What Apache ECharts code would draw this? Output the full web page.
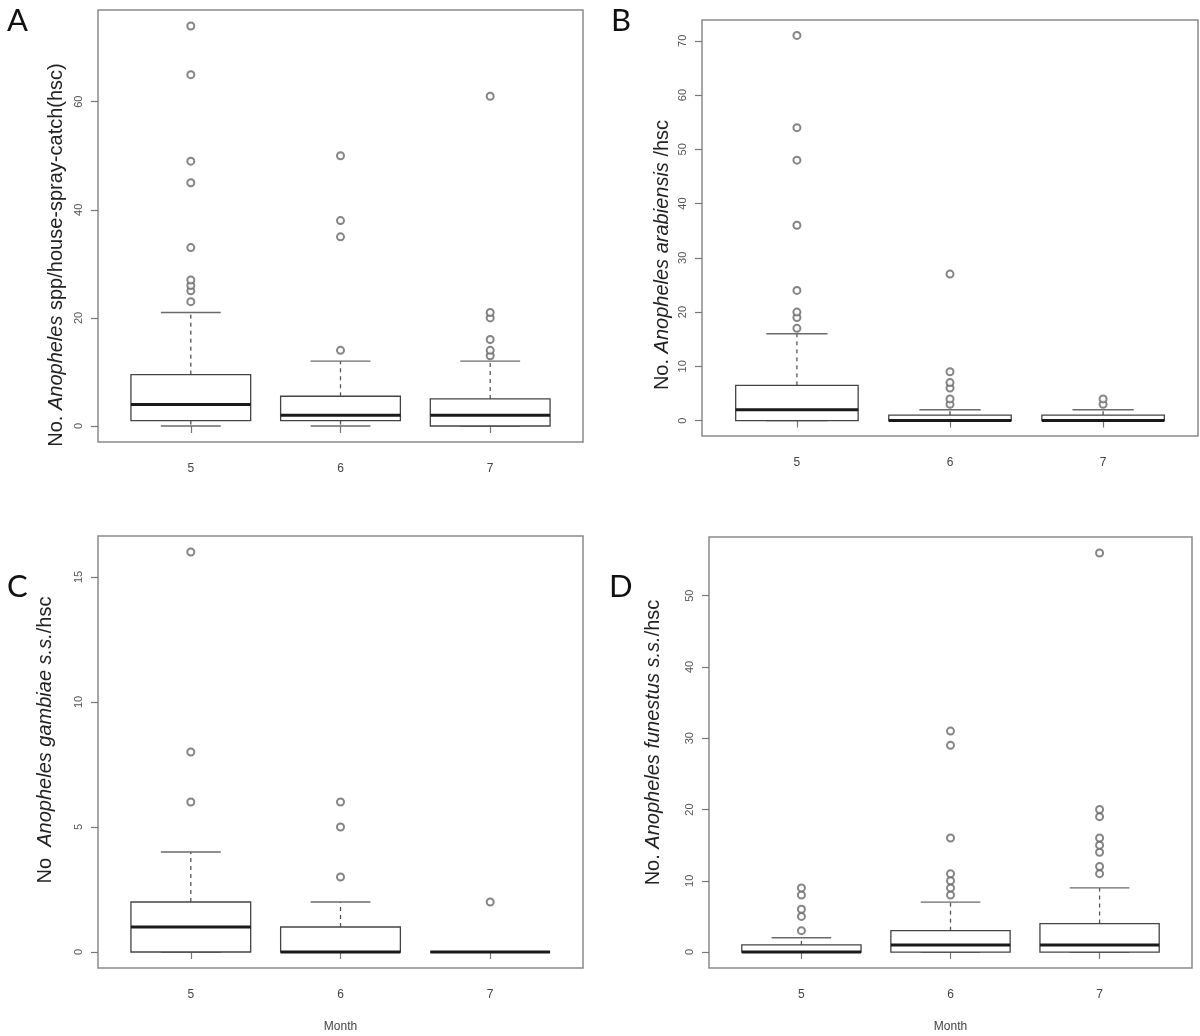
<!DOCTYPE html>
<html><head><meta charset="utf-8">
<script src="https://cdn.jsdelivr.net/npm/echarts@6/dist/echarts.min.js"></script>
<style>html,body{margin:0;padding:0;background:#fff}#c{width:1200px;height:1036px}</style>
</head><body><div id="c"></div>
<script>
// x categories (month)
const months = ['5', '6', '7'];

// Box statistics per month: [lower whisker, Q1, median, Q3, upper whisker]
const statsA = [[0, 1, 4, 9.5, 21], [0, 1, 2, 5.5, 12], [0, 0, 2, 5, 12]];
const statsB = [[0, 0, 2, 6.5, 16], [0, 0, 0, 1, 2], [0, 0, 0, 1, 2]];
const statsC = [[0, 0, 1, 2, 4], [0, 0, 0, 1, 2], [0, 0, 0, 0, 0]];
const statsD = [[0, 0, 0, 1, 2], [0, 0, 1, 3, 7], [0, 0, 1, 4, 9]];

// Outliers per month
const outliersA = [[23, 25, 26, 27, 33, 45, 49, 65, 74], [14, 35, 38, 50], [13, 14, 16, 20, 21, 61]];
const outliersB = [[17, 19, 20, 24, 36, 48, 54, 71], [3, 4, 6, 7, 9, 27], [3, 4]];
const outliersC = [[6, 8, 16], [3, 5, 6], [2]];
const outliersD = [[3, 5, 6, 8, 9], [8, 9, 10, 11, 16, 29, 31], [11, 12, 14, 15, 16, 19, 20, 56]];

// y tick labels
const ticksA = [0, 20, 40, 60];
const ticksB = [0, 10, 20, 30, 40, 50, 60, 70];
const ticksC = [0, 5, 10, 15];
const ticksD = [0, 10, 20, 30, 40, 50];

const titlesY = [
  'No. {i|Anopheles} spp/house-spray-catch(hsc)',
  'No. {i|Anopheles arabiensis} /hsc',
  'No  {i|Anopheles gambiae s.s.}/hsc',
  'No. {i|Anopheles funestus s.s.}/hsc'
];
const letters = ['A', 'B', 'C', 'D'];

const panels = [
  { stats: statsA, out: outliersA, ticks: ticksA, grid: { left: 98, top: 10, width: 485, height: 432 }, nameGap: 32, pad: [0, 58, 0, 0], month: false, letter: { left: 2, top: 0 } },
  { stats: statsB, out: outliersB, ticks: ticksB, grid: { left: 702, top: 20, width: 496, height: 416 }, nameGap: 30, pad: [0, 54, 0, 0], month: false, letter: { left: 606, top: 0 } },
  { stats: statsC, out: outliersC, ticks: ticksC, grid: { left: 98, top: 536, width: 485, height: 432 }, nameGap: 43, pad: [0, 0, 0, 24], month: true, letter: { left: 2, top: 566 } },
  { stats: statsD, out: outliersD, ticks: ticksD, grid: { left: 709, top: 537, width: 483, height: 431 }, nameGap: 46, pad: [0, 0, 0, 20], month: true, letter: { left: 604, top: 566 } }
];

const FONT = '"Liberation Sans", Arial, sans-serif';

function yRange(stats, out) {
  const all = [];
  stats.forEach(s => all.push(...s));
  out.forEach(o => all.push(...o));
  const lo = Math.min(...all), hi = Math.max(...all);
  const pad = (hi - lo) * 0.04;
  return [lo - pad, hi + pad];
}

function renderBox(params, api) {
  const x = api.value(0);
  const mn = api.value(1), q1 = api.value(2), md = api.value(3), q3 = api.value(4), mx = api.value(5);
  const unit = api.size([1, 0])[0];
  const bh = unit * 0.4, sh = unit * 0.2;
  const c = v => api.coord([x, v]);
  const cx = c(md)[0];
  const yMn = c(mn)[1], yQ1 = c(q1)[1], yMd = c(md)[1], yQ3 = c(q3)[1], yMx = c(mx)[1];
  const ch = [];
  const wStyle = { stroke: '#555', lineWidth: 1.3, lineDash: [4, 4] };
  const sStyle = { stroke: '#6a6a6a', lineWidth: 1.4 };
  if (mx > q3) ch.push({ type: 'line', shape: { x1: cx, y1: yQ3, x2: cx, y2: yMx }, style: wStyle });
  if (q1 > mn) ch.push({ type: 'line', shape: { x1: cx, y1: yQ1, x2: cx, y2: yMn }, style: wStyle });
  ch.push({ type: 'line', shape: { x1: cx - sh, y1: yMx, x2: cx + sh, y2: yMx }, style: sStyle });
  ch.push({ type: 'line', shape: { x1: cx - sh, y1: yMn, x2: cx + sh, y2: yMn }, style: sStyle });
  ch.push({ type: 'rect', shape: { x: cx - bh, y: yQ3, width: 2 * bh, height: yQ1 - yQ3 }, style: { fill: '#fff', stroke: '#444', lineWidth: 1.3 } });
  ch.push({ type: 'line', shape: { x1: cx - bh, y1: yMd, x2: cx + bh, y2: yMd }, style: { stroke: '#1a1a1a', lineWidth: 3 } });
  return { type: 'group', children: ch };
}

const option = {
  animation: false,
  backgroundColor: '#fff',
  title: panels.map((p, i) => ({
    text: letters[i], left: p.letter.left, top: p.letter.top,
    textStyle: { fontFamily: 'Lato, "Open Sans", sans-serif', fontSize: 31, fontWeight: 'normal', color: '#111' }
  })),
  grid: panels.map(p => Object.assign({ show: true, borderColor: '#8a8a8a', borderWidth: 1.5, backgroundColor: 'transparent' }, p.grid)),
  xAxis: panels.map((p, i) => ({
    type: 'value', gridIndex: i, min: 0.38, max: 3.62,
    axisLine: { show: false }, splitLine: { show: false },
    axisTick: { show: true, customValues: [1, 2, 3], length: 7, lineStyle: { color: '#777', width: 1.2 } },
    axisLabel: { customValues: [1, 2, 3], formatter: v => months[Math.round(v) - 1], fontSize: 12, color: '#444', margin: 21, fontFamily: FONT },
    name: p.month ? 'Month' : '', nameLocation: 'middle', nameGap: 53,
    nameTextStyle: { fontSize: 12, color: '#444', fontFamily: FONT }
  })),
  yAxis: panels.map((p, i) => {
    const r = yRange(p.stats, p.out);
    return {
      type: 'value', gridIndex: i, min: r[0], max: r[1],
      axisLine: { show: false }, splitLine: { show: false },
      axisTick: { show: true, customValues: p.ticks, length: 7, lineStyle: { color: '#777', width: 1.2 } },
      axisLabel: { customValues: p.ticks, rotate: 90, fontSize: 11, color: '#555', margin: 14, fontFamily: FONT },
      name: titlesY[i], nameLocation: 'middle', nameRotate: 90, nameGap: p.nameGap,
      nameTextStyle: {
        fontSize: 20, color: '#222', fontFamily: FONT, padding: p.pad,
        rich: { i: { fontSize: 20, color: '#222', fontStyle: 'italic', fontFamily: FONT } }
      }
    };
  }),
  series: []
};

panels.forEach((p, i) => {
  option.series.push({
    type: 'custom', xAxisIndex: i, yAxisIndex: i, z: 2,
    data: p.stats.map((s, k) => [k + 1].concat(s)),
    encode: { x: 0, y: [1, 2, 3, 4, 5] },
    renderItem: renderBox
  });
  const pts = [];
  p.out.forEach((arr, k) => arr.forEach(v => pts.push([k + 1, v])));
  option.series.push({
    type: 'scatter', xAxisIndex: i, yAxisIndex: i, z: 3,
    symbol: 'emptyCircle', symbolSize: 7,
    itemStyle: { color: '#666', borderWidth: 1.2 },
    data: pts
  });
});

const chart = echarts.init(document.getElementById('c'), null, { renderer: 'canvas' });
chart.setOption(option);
</script>
</body></html>
